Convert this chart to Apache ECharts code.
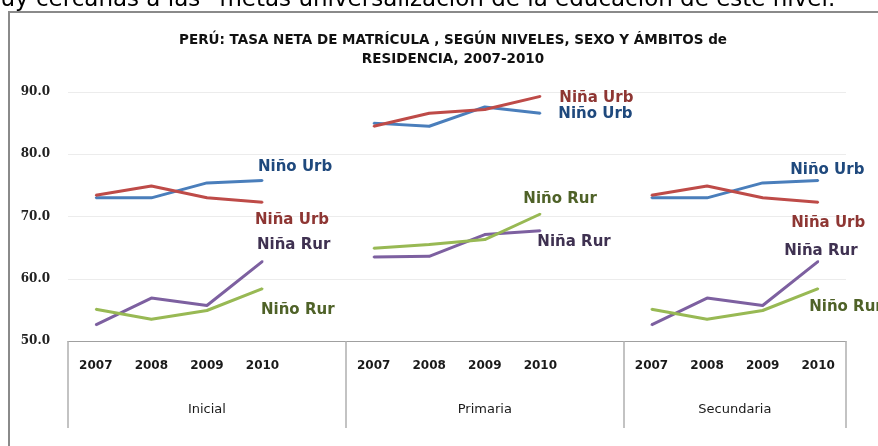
<!DOCTYPE html>
<html><head><meta charset="utf-8">
<script src="https://cdn.jsdelivr.net/npm/echarts@6/dist/echarts.min.js"></script>
<style>html,body{margin:0;padding:0;background:#fff}#c{width:878px;height:446px}</style>
</head><body><div id="c"></div>
<script>
// ---- data ----
const levels = ['Inicial', 'Primaria', 'Secundaria'];
const years = ['2007', '2008', '2009', '2010'];
const yTicks = [50, 60, 70, 80, 90];

const ninoUrbIni = [73.0, 73.0, 75.4, 75.8];
const ninoUrbPri = [85.0, 84.5, 87.6, 86.6];
const ninoUrbSec = [73.0, 73.0, 75.4, 75.8];

const ninaUrbIni = [73.4, 74.9, 73.0, 72.3];
const ninaUrbPri = [84.5, 86.6, 87.2, 89.3];
const ninaUrbSec = [73.4, 74.9, 73.0, 72.3];

const ninaRurIni = [52.6, 56.9, 55.7, 62.8];
const ninaRurPri = [63.5, 63.6, 67.1, 67.7];
const ninaRurSec = [52.6, 56.9, 55.7, 62.8];

const ninoRurIni = [55.1, 53.5, 54.9, 58.4];
const ninoRurPri = [64.9, 65.5, 66.3, 70.4];
const ninoRurSec = [55.1, 53.5, 54.9, 58.4];

const seriesNames = ['Niño Urb', 'Niña Urb', 'Niña Rur', 'Niño Rur'];

// ---- styling (not data) ----
const lineColors = ['#4A7EBB', '#BE4B48', '#7D60A0', '#98B954'];
const textColors = ['#1F497D', '#8E3633', '#3F3151', '#4F6228'];
const labelOffsets = [
  [[-4.5, -13], [18, 1], [-28, -10]],
  [[-7.5, 17.5], [19, 1.5], [-27, 20.5]],
  [[-5.5, -16.5], [-3, 11], [-34, -10.5]],
  [[-1.5, 21], [-17, -15], [-9, 18]]
];

// categories: 4 years + blank gap per level (last level without gap)
const categories = [];
levels.forEach((lv, i) => {
  years.forEach(y => categories.push(y));
  if (i < levels.length - 1) categories.push('');
});

const groups = [
  [ninoUrbIni, ninoUrbPri, ninoUrbSec],
  [ninaUrbIni, ninaUrbPri, ninaUrbSec],
  [ninaRurIni, ninaRurPri, ninaRurSec],
  [ninoRurIni, ninoRurPri, ninoRurSec]
];

function buildData(si) {
  const out = [];
  groups[si].forEach((arr, g) => {
    arr.forEach((v, k) => {
      if (k === arr.length - 1) {
        out.push({
          value: v,
          label: {
            show: true,
            formatter: seriesNames[si],
            position: 'inside',
            align: 'left',
            verticalAlign: 'middle',
            offset: labelOffsets[si][g],
            color: textColors[si],
            fontFamily: 'DejaVu Sans',
            fontWeight: 'bold',
            fontSize: 15
          }
        });
      } else {
        out.push(v);
      }
    });
    if (g < groups[si].length - 1) out.push(null);
  });
  return out;
}

// group label positions (in category units) and separators
const groupCenters = [2.5, 7.5, 12];
const separators = [0, 5, 10, 14];

const chart = echarts.init(document.getElementById('c'), null, { renderer: 'canvas' });
chart.setOption({
  animation: false,
  backgroundColor: '#fff',
  title: {
    text: 'PERÚ: TASA NETA DE MATRÍCULA , SEGÚN NIVELES, SEXO Y ÁMBITOS de\nRESIDENCIA, 2007-2010',
    left: 448,
    textAlign: 'center',
    top: 26,
    textStyle: {
      fontFamily: 'DejaVu Sans',
      fontWeight: 'bold',
      fontSize: 13.5,
      lineHeight: 19,
      color: '#111'
    }
  },
  graphic: [
    {
      type: 'rect',
      shape: { x: 9, y: 12, width: 900, height: 500 },
      style: { fill: 'none', stroke: '#8a8a8a', lineWidth: 2 },
      silent: true, z: -1
    },
    {
      type: 'text',
      x: -22, y: 11.5,
      style: {
        text: 'muy cercanas a las “metas universalización de la educación de este nivel.',
        font: '23px "DejaVu Sans"',
        fill: '#000',
        verticalAlign: 'bottom'
      },
      silent: true
    }
  ],
  grid: { left: 68, right: 32, top: 92, bottom: 105, containLabel: false },
  xAxis: [
    {
      type: 'category',
      data: categories,
      boundaryGap: true,
      axisLine: { show: true, lineStyle: { color: '#a0a0a0', width: 1 } },
      axisTick: { show: false },
      axisLabel: {
        interval: 0,
        margin: 19,
        color: '#1a1a1a',
        fontFamily: 'DejaVu Sans',
        fontWeight: 'bold',
        fontSize: 12
      },
      splitLine: { show: false }
    },
    {
      type: 'value',
      position: 'bottom',
      min: 0,
      max: 14,
      axisLine: { show: false },
      axisTick: {
        show: true,
        inside: false,
        length: 87,
        customValues: separators,
        lineStyle: { color: '#b0b0b0', width: 1.5 }
      },
      axisLabel: {
        show: true,
        margin: 62,
        customValues: groupCenters,
        formatter: function (v) {
          const i = groupCenters.indexOf(v);
          return i >= 0 ? levels[i] : '';
        },
        color: '#1a1a1a',
        fontFamily: 'DejaVu Sans',
        fontSize: 13
      },
      splitLine: { show: false }
    }
  ],
  yAxis: {
    type: 'value',
    min: 50,
    max: 90,
    interval: 10,
    axisLine: { show: false },
    axisTick: { show: false },
    axisLabel: {
      margin: 18,
      formatter: v => v.toFixed(1),
      color: '#222',
      fontFamily: 'DejaVu Serif',
      fontWeight: 'bold',
      fontSize: 12
    },
    splitLine: { lineStyle: { color: '#ececec', width: 1 } }
  },
  series: seriesNames.map((name, si) => ({
    name: name,
    type: 'line',
    xAxisIndex: 0,
    data: buildData(si),
    connectNulls: false,
    showSymbol: true,
    symbol: 'circle',
    symbolSize: 2,
    itemStyle: { color: lineColors[si] },
    lineStyle: { color: lineColors[si], width: 3 },
    emphasis: { disabled: true },
    silent: true,
    z: 3
  }))
});
</script>
</body></html>
